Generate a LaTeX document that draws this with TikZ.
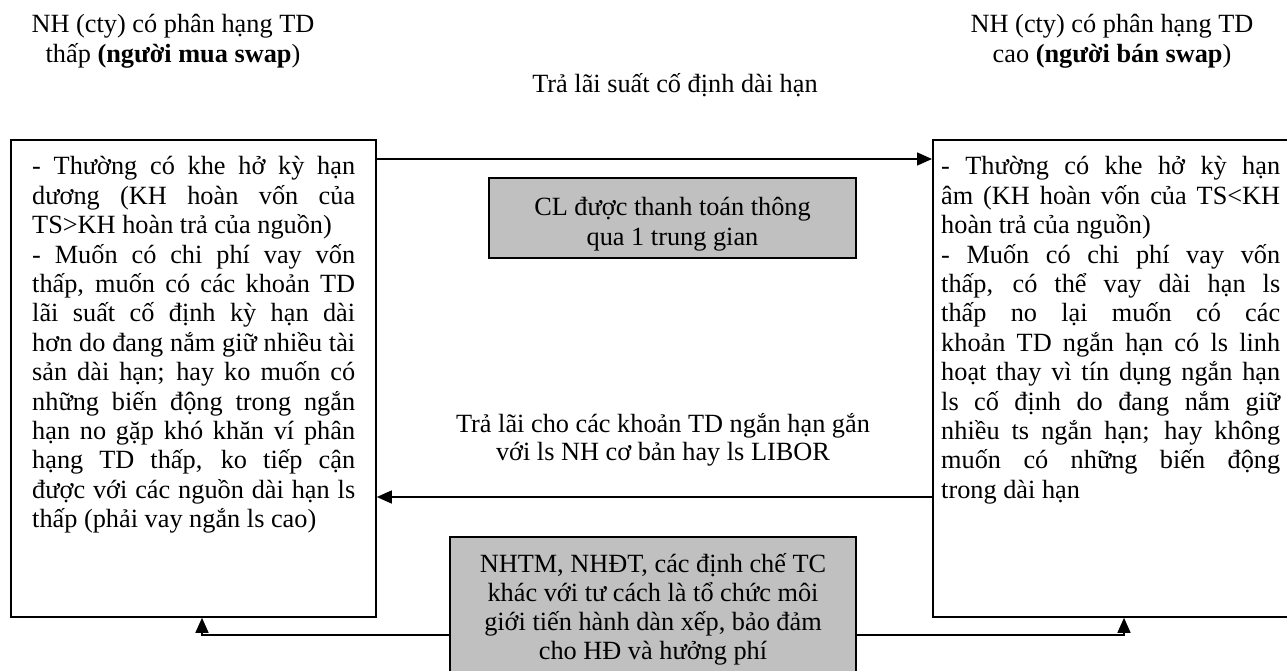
\documentclass[tikz,border=0pt]{standalone}
\usepackage{fontspec}
\setmainfont{Liberation Serif}
\usetikzlibrary{arrows.meta}
\definecolor{boxgray}{RGB}{192,192,192}
\newcommand{\jl}[1]{\makebox[\linewidth][s]{#1}}
\tikzset{
  mainbox/.style={draw=black, line width=1.8pt, inner sep=0pt, anchor=north west},
  graybox/.style={draw=black, line width=1.3pt, fill=boxgray, inner sep=0pt},
  txt/.style={inner sep=0pt, anchor=base},
  boxtxt/.style={inner sep=0pt, anchor=base west},
  arr/.style={line width=1.5pt, -{Triangle[length=15pt,width=13pt]}},
  conn/.style={line width=1.5pt}
}
\begin{document}
\begin{tikzpicture}[x=1pt,y=-1pt]
\path[use as bounding box] (0,0) rectangle (1287,671);
\clip (0,0) rectangle (1287,671);

% titles
\node[txt, font=\fontsize{26.3}{30}\selectfont] (tl) at (173,33)
  {\begin{tabular}[t]{@{}c@{}}NH (cty) có phân hạng TD\\ thấp \textbf{(người mua swap})\end{tabular}};
\node[txt, font=\fontsize{26.3}{30}\selectfont] (tr) at (1112,33)
  {\begin{tabular}[t]{@{}c@{}}NH (cty) có phân hạng TD\\ cao \textbf{(người bán swap})\end{tabular}};
\node[txt, font=\fontsize{26.3}{30}\selectfont] (fix) at (675,93) {Trả lãi suất cố định dài hạn};

% main boxes
\node[mainbox, minimum width=365pt, minimum height=477pt] (L) at (10,139) {};
\node[mainbox, minimum width=400pt, minimum height=477pt] (R) at (932,139) {};

\node[boxtxt] (Lt) at (32,175) {\parbox[t]{323pt}{\fontsize{26.3}{29.4}\selectfont
\jl{- Thường có khe hở kỳ hạn}\\
\jl{dương (KH hoàn vốn của}\\
TS>KH hoàn trả của nguồn)\\
\jl{- Muốn có chi phí vay vốn}\\
\jl{thấp, muốn có các khoản TD}\\
\jl{lãi suất cố định kỳ hạn dài}\\
\jl{hơn do đang nắm giữ nhiều tài}\\
\jl{sản dài hạn; hay ko muốn có}\\
\jl{những biến động trong ngắn}\\
\jl{hạn no gặp khó khăn ví phân}\\
\jl{hạng TD thấp, ko tiếp cận}\\
\jl{được với các nguồn dài hạn ls}\\
thấp (phải vay ngắn ls cao)}};

\node[boxtxt] (Rt) at (941,175) {\parbox[t]{339pt}{\fontsize{26.3}{29.4}\selectfont
\jl{- Thường có khe hở kỳ hạn}\\
\jl{âm (KH hoàn vốn của TS<KH}\\
hoàn trả của nguồn)\\
\jl{- Muốn có chi phí vay vốn}\\
\jl{thấp, có thể vay dài hạn ls}\\
\jl{thấp no lại muốn có các}\\
\jl{khoản TD ngắn hạn có ls linh}\\
\jl{hoạt thay vì tín dụng ngắn hạn}\\
\jl{ls cố định do đang nắm giữ}\\
\jl{nhiều ts ngắn hạn; hay không}\\
\jl{muốn có những biến động}\\
trong dài hạn}};

% gray boxes
\node[graybox, minimum width=367pt, minimum height=80pt] (G1) at (672.5,218) {};
\node[txt, font=\fontsize{26.3}{30}\selectfont] (G1t) at (672.5,215)
  {\begin{tabular}[t]{@{}c@{}}CL được thanh toán thông\\ qua 1 trung gian\end{tabular}};

\node[graybox, minimum width=406pt, minimum height=163pt] (G2) at (653,618.5) {};
\node[txt, font=\fontsize{26.3}{29}\selectfont] (G2t) at (653,572)
  {\begin{tabular}[t]{@{}c@{}}NHTM, NHĐT, các định chế TC\\ khác với tư cách là tổ chức môi\\ giới tiến hành dàn xếp, bảo đảm\\ cho HĐ và hưởng phí\end{tabular}};

% middle label
\node[txt, font=\fontsize{26.3}{28.5}\selectfont] (mid) at (663,432)
  {\begin{tabular}[t]{@{}c@{}}Trả lãi cho các khoản TD ngắn hạn gắn\\ với ls NH cơ bản hay ls LIBOR\end{tabular}};

% connectors
\draw[arr] ([yshift=-20pt]L.north east) -- ([yshift=-20pt]R.north west);
\draw[arr] ([yshift=-358pt]R.north west) -- ([yshift=-358pt]L.north east);

\coordinate (yside) at (0,635);
\coordinate (lx) at (202,0);
\coordinate (rx) at (1124,0);
\draw[arr] (G2.west |- yside) -| (lx |- L.south);
\draw[arr] (G2.east |- yside) -| (rx |- R.south);
\end{tikzpicture}
\end{document}
